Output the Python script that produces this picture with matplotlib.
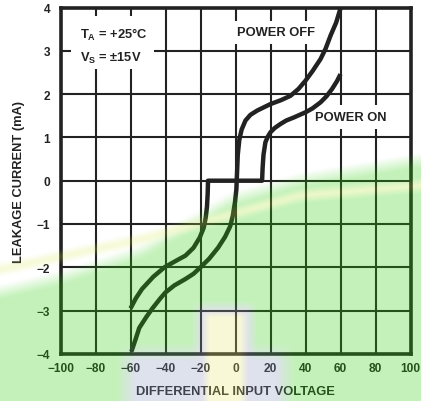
import matplotlib
matplotlib.use("Agg")
import matplotlib.pyplot as plt
import numpy as np
from matplotlib.patches import Rectangle

# ── Data ─────────────────────────────────────────────────────────────────────

x_ticks = [-100, -80, -60, -40, -20, 0, 20, 40, 60, 80, 100]
y_ticks = [-4, -3, -2, -1, 0, 1, 2, 3, 4]

off_volts = [-59.5, -57, -55, -51, -47.5, -43, -40, -35, -28.6, -24, -20, -15,
             -10, -6, -3, -1.5, -0.3, 0.5, 0.9, 1.3, 2.2, 3.5, 5.7, 8.5, 12.4,
             20, 26, 31.4, 36, 40, 44, 48.6, 51.5, 54.3, 57.5, 60]
off_current = [-3.95, -3.65, -3.4, -3.15, -2.95, -2.72, -2.58, -2.42, -2.27,
               -2.15, -2.0, -1.8, -1.55, -1.3, -1.05, -0.8, -0.5, -0.2, 0.2,
               0.6, 0.95, 1.18, 1.39, 1.52, 1.62, 1.77, 1.86, 1.96, 2.12,
               2.31, 2.53, 2.81, 3.05, 3.35, 3.65, 3.98]

on_volts = [-60, -57, -53.4, -47, -40.6, -34, -28.6, -24, -20.4, -18.1, -17,
            -16.3, -15.9, -15.7, 15.2, 15.5, 16, 17.1, 18.5, 20, 22.5, 25.7,
            29, 33.3, 40, 44, 48.6, 52, 55.2, 58, 60]
on_current = [-2.95, -2.72, -2.5, -2.22, -2.0, -1.85, -1.73, -1.55, -1.31,
              -1.08, -0.85, -0.6, -0.3, 0, 0, 0.3, 0.6, 0.89, 1.02, 1.12,
              1.22, 1.31, 1.39, 1.46, 1.58, 1.67, 1.81, 1.95, 2.12, 2.3, 2.46]

INK = "#222222"
W, H = 421, 402

plt.rcParams["font.family"] = ["Liberation Sans", "DejaVu Sans"]
plt.rcParams["font.weight"] = "bold"
plt.rcParams["mathtext.fontset"] = "custom"
plt.rcParams["mathtext.bf"] = "Liberation Sans:bold"
plt.rcParams["mathtext.rm"] = "Liberation Sans:bold"

fig = plt.figure(figsize=(W / 100, H / 100), dpi=100)
ax = fig.add_axes([60.5 / W, (H - 354.9) / H, 350 / W, 346.4 / H])

ax.set_xlim(-100, 100)
ax.set_ylim(-4, 4)
ax.set_xticks(x_ticks)
ax.set_yticks(y_ticks)
ax.grid(True, color=INK, linewidth=1.5)
for sp in ax.spines.values():
    sp.set_linewidth(2.6)
    sp.set_color(INK)
ax.tick_params(axis="both", length=0, labelsize=8.6, labelcolor=INK)
ax.tick_params(axis="x", pad=5.5)
ax.tick_params(axis="y", pad=7.5)

ax.set_xlabel("DIFFERENTIAL INPUT VOLTAGE", fontsize=9.3, fontweight="bold",
              color=INK, labelpad=8)
ax.set_ylabel("LEAKAGE CURRENT (mA)", fontsize=9.3, fontweight="bold",
              color=INK, labelpad=8)

# curves
ax.plot(off_volts, off_current, color=INK, linewidth=3.2, zorder=3,
        solid_joinstyle="round", solid_capstyle="butt")
ax.plot(on_volts, on_current, color=INK, linewidth=3.2, zorder=3,
        solid_joinstyle="round", solid_capstyle="butt")

# conditions block
ax.add_patch(Rectangle((-94, 2.58), 47.3, 1.22, facecolor="white",
                       edgecolor="none", zorder=2))
ax.text(-88.9, 3.30, r"$\mathbf{T_A}$ = +25°C", fontsize=9.3,
        fontweight="bold", color=INK, va="baseline", zorder=4)
ax.text(-88.9, 2.76, r"$\mathbf{V_S}$ = ±15V", fontsize=9.3,
        fontweight="bold", color=INK, va="baseline", zorder=4)

# curve labels sit under the curves so their white boxes only cut the grid
box = dict(facecolor="white", edgecolor="none", pad=4)
ax.text(0.9, 3.43, "POWER OFF", fontsize=9.3, fontweight="bold", color=INK,
        va="center", ha="left", bbox=box, zorder=2.5)
ax.text(45.4, 1.47, "POWER ON", fontsize=9.3, fontweight="bold", color=INK,
        va="center", ha="left", bbox=box, zorder=2.5)


# ── Tinted backdrop laid over the sheet ──────────────────────────────────────

def box_blur(a, r):
    k = np.ones(2 * r + 1) / (2 * r + 1)
    a = np.apply_along_axis(lambda v: np.convolve(np.pad(v, r, mode="edge"), k, "valid"), 0, a)
    a = np.apply_along_axis(lambda v: np.convolve(np.pad(v, r, mode="edge"), k, "valid"), 1, a)
    return a


yy, xx = np.mgrid[0:H, 0:W].astype(float)
green_edge = np.interp(xx[0], [0, 60, 140, 230, 300, 421], [292, 278, 252, 200, 180, 160])
band_mid = np.interp(xx[0], [0, 140, 300, 421], [270, 240, 196, 186])

layers = [
    ((yy > green_edge[None, :]).astype(float), (196, 242, 186), 7),
    ((np.abs(yy - band_mid[None, :]) < 3.5).astype(float), (244, 249, 205), 4),
    (((xx > 125) & (xx < 285) & (yy > 352)).astype(float), (222, 226, 236), 9),
    (((xx > 196) & (xx < 252) & (yy > 306)).astype(float), (224, 226, 236), 5),
    (((xx > 205) & (xx < 244) & (yy > 314)).astype(float), (250, 249, 214), 4),
]

strength = np.zeros((H, W))
premul = np.zeros((H, W, 3))
for mask, rgb, r in layers:
    m = box_blur(mask, r)[..., None]
    premul = premul * (1 - m) + m * np.array(rgb, float)
    strength = strength * (1 - m[..., 0]) + m[..., 0]

a0 = 0.28
col = premul / np.maximum(strength, 1e-6)[..., None]
over = np.clip((col - 255 * (1 - a0)) / a0, 0, 255) / 255
rgba = np.dstack([over, a0 * strength])

tint = fig.add_axes([0, 0, 1, 1])
tint.imshow(rgba, extent=(0, W, H, 0), aspect="auto", interpolation="bilinear")
tint.set_axis_off()

fig.savefig("out.png", dpi=100)
